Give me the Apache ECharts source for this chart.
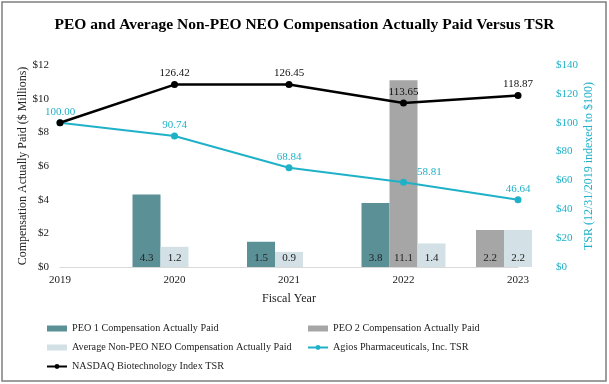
<!DOCTYPE html>
<html>
<head>
<meta charset="utf-8">
<script src="https://cdn.jsdelivr.net/npm/echarts@6/dist/echarts.min.js"></script>
<style>html,body{margin:0;padding:0;background:#fff;}#c{width:609px;height:384px;}</style>
</head>
<body>
<div id="c"></div>
<script>
const years = ['2019', '2020', '2021', '2022', '2023'];
const peo1Cap = [null, 4.3, 1.5, 3.8, null];
const peo2Cap = [null, null, null, 11.1, 2.2];
const neoCap = [null, 1.2, 0.9, 1.4, 2.2];
const agiosTSR = [100.00, 90.74, 68.84, 58.81, 46.64];
const nasdaqTSR = [100.00, 126.42, 126.45, 113.65, 118.87];
const leftTicks = {min: 0, max: 12, interval: 2};
const rightTicks = {min: 0, max: 140, interval: 20};

const NAMES = {
  peo1: 'PEO 1 Compensation Actually Paid',
  peo2: 'PEO 2 Compensation Actually Paid',
  neo: 'Average Non-PEO NEO Compensation Actually Paid',
  agios: 'Agios Pharmaceuticals, Inc. TSR',
  nasdaq: 'NASDAQ Biotechnology Index TSR'
};
const TEAL = '#1fb1c8';
const FONT = 'Liberation Serif';

const barDefs = [
  {name: NAMES.peo1, values: peo1Cap, color: '#5b9097'},
  {name: NAMES.peo2, values: peo2Cap, color: '#a6a6a6'},
  {name: NAMES.neo, values: neoCap, color: '#d3e1e6'}
];
// pack present bars from the left of each group
const slotOf = barDefs.map(() => years.map(() => -1));
years.forEach((_, i) => {
  let s = 0;
  barDefs.forEach((d, k) => { if (d.values[i] != null) { slotOf[k][i] = s++; } });
});
const barSeries = [];
for (let s = 0; s < 3; s++) {
  barDefs.forEach((d, k) => {
    const data = years.map((_, i) => slotOf[k][i] === s ? d.values[i] : '-');
    if (data.some(v => v !== '-')) {
      barSeries.push({
        type: 'bar', name: d.name, stack: 'slot' + s, data: data,
        barWidth: 28, barGap: '0%',
        itemStyle: {color: d.color},
        label: {show: true, position: 'insideBottom', distance: 3, color: '#222',
          fontFamily: FONT, fontSize: 11, formatter: p => Number(p.value).toFixed(1)},
        z: 2
      });
    }
  });
}

const legendText = {fontFamily: FONT, fontSize: 10.2, color: '#222', lineHeight: 13};
const chart = echarts.init(document.getElementById('c'), null, {renderer: 'canvas'});
chart.setOption({
  animation: false,
  backgroundColor: '#fff',
  title: {text: 'PEO and Average Non-PEO NEO Compensation Actually Paid Versus TSR',
    left: 'center', top: 12,
    textStyle: {fontFamily: FONT, fontWeight: 'bold', fontSize: 15.5, color: '#000'}},
  graphic: [{type: 'rect', shape: {x: 2, y: 2, width: 604, height: 379},
    style: {fill: 'none', stroke: '#7f7f7f', lineWidth: 1.5}, silent: true}],
  grid: {left: 60, right: 91, top: 65, bottom: 117},
  legend: [
    {left: 46, top: 322, padding: 0, orient: 'vertical', itemGap: 6, itemWidth: 20, itemHeight: 6,
      textStyle: legendText,
      data: [{name: NAMES.peo1, icon: 'rect'}, {name: NAMES.neo, icon: 'rect'}, {name: NAMES.nasdaq}]},
    {left: 307, top: 322, padding: 0, orient: 'vertical', itemGap: 6, itemWidth: 20, itemHeight: 6,
      textStyle: legendText,
      data: [{name: NAMES.peo2, icon: 'rect'}, {name: NAMES.agios}]}
  ],
  xAxis: {type: 'category', data: years, boundaryGap: false,
    name: 'Fiscal Year', nameLocation: 'middle', nameGap: 26,
    nameTextStyle: {fontFamily: FONT, fontSize: 12, color: '#222'},
    axisLine: {lineStyle: {color: '#d9d9d9', width: 1}},
    axisTick: {show: false},
    axisLabel: {fontFamily: FONT, fontSize: 11, color: '#222', margin: 8}},
  yAxis: [
    {type: 'value', min: leftTicks.min, max: leftTicks.max, interval: leftTicks.interval,
      name: 'Compensation Actually Paid ($ Millions)', nameLocation: 'middle', nameGap: 31,
      nameMoveOverlap: false,
      nameTextStyle: {fontFamily: FONT, fontSize: 12, color: '#222'},
      axisLine: {show: false}, axisTick: {show: false}, splitLine: {show: false},
      axisLabel: {fontFamily: FONT, fontSize: 11, color: '#222', margin: 11, formatter: v => '$' + v}},
    {type: 'value', min: rightTicks.min, max: rightTicks.max, interval: rightTicks.interval,
      name: 'TSR (12/31/2019 indexed to $100)', nameLocation: 'middle', nameGap: 65, nameRotate: 90,
      nameMoveOverlap: false,
      nameTextStyle: {fontFamily: FONT, fontSize: 12, color: TEAL},
      axisLine: {show: false}, axisTick: {show: false}, splitLine: {show: false},
      axisLabel: {fontFamily: FONT, fontSize: 11, color: TEAL, margin: 38, formatter: v => '$' + v}}
  ],
  series: barSeries.concat([
    {type: 'line', name: NAMES.agios, yAxisIndex: 1, z: 5, clip: false,
      data: agiosTSR.map((v, i) => i === 3 ? {value: v, label: {position: 'right', offset: [8, -10]}} : v),
      symbol: 'circle', symbolSize: 7,
      lineStyle: {color: TEAL, width: 2}, itemStyle: {color: TEAL},
      label: {show: true, position: 'top', distance: 2, color: TEAL, fontFamily: FONT, fontSize: 11,
        formatter: p => Number(p.value).toFixed(2)}},
    {type: 'line', name: NAMES.nasdaq, yAxisIndex: 1, z: 6, clip: false,
      data: nasdaqTSR.map((v, i) => i === 0 ? {value: v, label: {show: false}} : v),
      symbol: 'circle', symbolSize: 7,
      lineStyle: {color: '#000', width: 2.5}, itemStyle: {color: '#000'},
      label: {show: true, position: 'top', distance: 2, color: '#111', fontFamily: FONT, fontSize: 11,
        formatter: p => Number(p.value).toFixed(2)}}
  ])
});
</script>
</body>
</html>
